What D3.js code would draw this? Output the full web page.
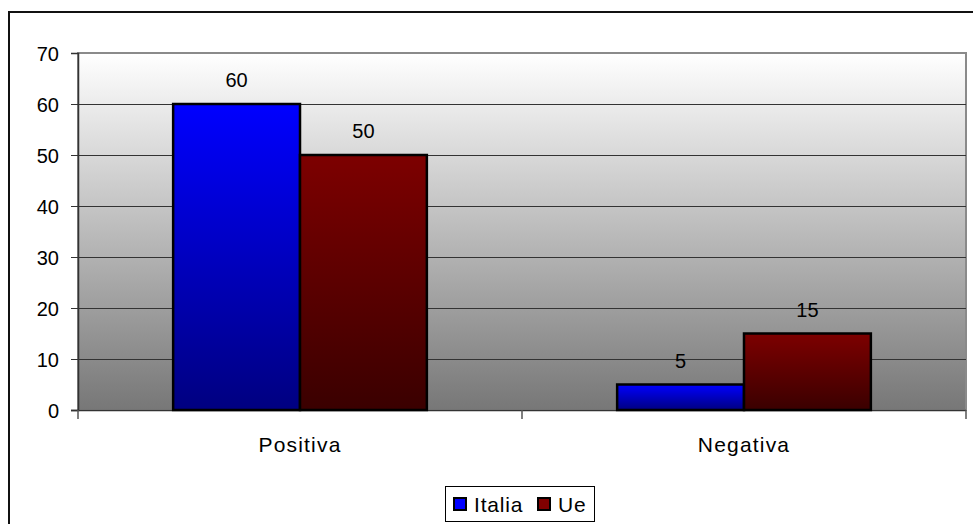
<!DOCTYPE html>
<html><head><meta charset="utf-8">
<script src="https://cdn.jsdelivr.net/npm/d3@7"></script>
<style>body{margin:0;background:#fff}svg{display:block}text{font-family:"Liberation Sans",Arial,sans-serif}</style>
</head><body>
<svg id="c" width="973" height="524"></svg>
<script>
const categories = ["Positiva", "Negativa"];
const seriesNames = ["Italia", "Ue"];
const italia = [60, 5];
const ue = [50, 15];
const yTicks = [0, 10, 20, 30, 40, 50, 60, 70];

const svg = d3.select("#c");
const m = {l: 78, r: 966, t: 53, b: 410};
const FS = 20;

const defs = svg.append("defs");
const bg = defs.append("linearGradient").attr("id","bg").attr("x1",0).attr("y1",0).attr("x2",0).attr("y2",1);
bg.append("stop").attr("offset","0%").attr("stop-color","#ffffff");
bg.append("stop").attr("offset","100%").attr("stop-color","#777777");
const gI = defs.append("linearGradient").attr("id","gI").attr("x1",0).attr("y1",0).attr("x2",0).attr("y2",1);
gI.append("stop").attr("offset","0%").attr("stop-color","#0000ff");
gI.append("stop").attr("offset","100%").attr("stop-color","#000080");
const gU = defs.append("linearGradient").attr("id","gU").attr("x1",0).attr("y1",0).attr("x2",0).attr("y2",1);
gU.append("stop").attr("offset","0%").attr("stop-color","#7d0000");
gU.append("stop").attr("offset","100%").attr("stop-color","#3a0000");
const fills = ["url(#gI)", "url(#gU)"];
const legendFills = ["#0000ff", "#800000"];

// outer chart border
svg.append("rect").attr("x", 9).attr("y", 12).attr("width", 975).attr("height", 530)
  .attr("fill", "none").attr("stroke", "#111").attr("stroke-width", 2);

const x = d3.scaleBand().domain(categories).range([m.l, m.r]);
const y = d3.scaleLinear().domain([0, 70]).range([m.b, m.t]);
const xs = d3.scaleBand().domain(seriesNames).range([0, x.bandwidth()]).paddingOuter(0.75).paddingInner(0);

// plot area
svg.append("rect").attr("x", m.l).attr("y", m.t).attr("width", m.r - m.l).attr("height", m.b - m.t)
  .attr("fill", "url(#bg)").attr("stroke", "#8a8a8a").attr("stroke-width", 2);

// gridlines
svg.append("g").selectAll("line").data(yTicks.filter(d => d > 0 && d < 70)).join("line")
  .attr("x1", m.l).attr("x2", m.r).attr("y1", d => Math.round(y(d)) + 0.5).attr("y2", d => Math.round(y(d)) + 0.5)
  .attr("stroke", "#333").attr("stroke-width", 1);

// y axis
const ya = svg.append("g").attr("transform", `translate(${m.l},0)`)
  .call(d3.axisLeft(y).tickValues(yTicks).tickSize(7).tickPadding(12));
ya.select(".domain").attr("stroke", "#333").attr("stroke-width", 1.5);
ya.selectAll(".tick line").attr("stroke", "#333");
ya.selectAll("text").attr("font-size", FS).attr("fill", "#000").attr("dy", "0.35em");

// x axis
const xa = svg.append("g").attr("transform", `translate(0,${m.b})`)
  .call(d3.axisBottom(x).tickSize(0).tickPadding(28));
xa.select(".domain").remove();
svg.append("line").attr("x1", m.l - 7).attr("x2", m.r).attr("y1", m.b + 0.5).attr("y2", m.b + 0.5)
  .attr("stroke", "#333").attr("stroke-width", 1.5);
const boundaries = [m.l, m.l + x.step(), m.r];
svg.append("g").selectAll("line").data(boundaries).join("line")
  .attr("x1", d => d).attr("x2", d => d).attr("y1", m.b).attr("y2", m.b + 9)
  .attr("stroke", "#555").attr("stroke-width", 1.5);
xa.selectAll("text").attr("font-size", 21).attr("letter-spacing", 1.2).attr("fill", "#000").attr("dy", "0.71em").attr("y", 27);

// bars
const data = [italia, ue];
seriesNames.forEach((s, si) => {
  const g = svg.append("g");
  g.selectAll("rect").data(categories).join("rect")
    .attr("x", c => x(c) + xs(s))
    .attr("y", (c, i) => y(data[si][i]))
    .attr("width", xs.bandwidth())
    .attr("height", (c, i) => y(0) - y(data[si][i]))
    .attr("fill", fills[si]).attr("stroke", "#000").attr("stroke-width", 2.5);
  g.selectAll("text").data(categories).join("text")
    .attr("x", c => x(c) + xs(s) + xs.bandwidth() / 2)
    .attr("y", (c, i) => y(data[si][i]) - 17)
    .attr("text-anchor", "middle").attr("font-size", FS).attr("fill", "#000")
    .text((c, i) => data[si][i]);
});

// legend
const lg = svg.append("g");
lg.append("rect").attr("x", 445.5).attr("y", 486.5).attr("width", 149).attr("height", 35)
  .attr("fill", "#fff").attr("stroke", "#000").attr("stroke-width", 1);
const lx = [454, 538];
seriesNames.forEach((s, i) => {
  lg.append("rect").attr("x", lx[i]).attr("y", 498).attr("width", 12).attr("height", 12)
    .attr("fill", legendFills[i]).attr("stroke", "#000").attr("stroke-width", 2);
  lg.append("text").attr("x", lx[i] + 20).attr("y", 512).attr("font-size", 21).attr("letter-spacing", 0.8)
    .attr("fill", "#000").text(s);
});
</script>
</body></html>
